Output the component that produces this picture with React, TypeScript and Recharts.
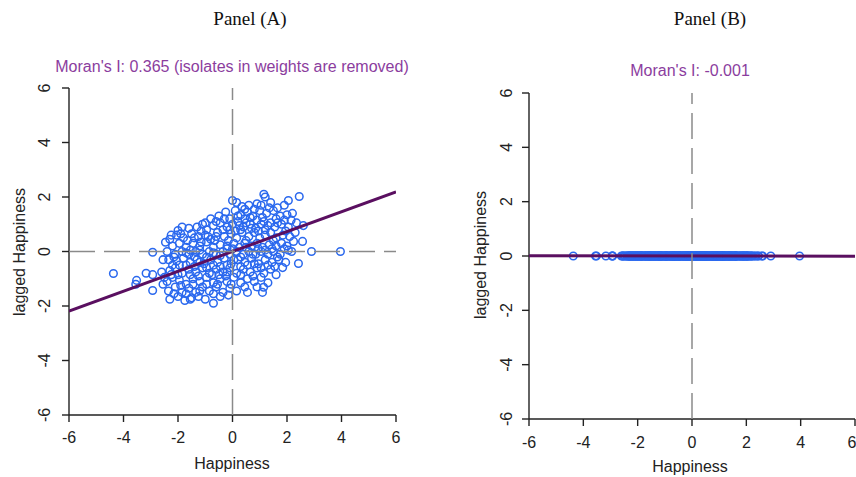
import { ScatterChart, Scatter, XAxis, YAxis } from "recharts";

const ticks = [-6, -4, -2, 0, 2, 4, 6];
const moranA = 0.365;
const moranB = -0.001;

// Panel A: [happiness, lagged happiness]
const outliersA: [number, number][] = [
  [-4.37, -0.81], [-3.52, -1.06], [-3.55, -1.2], [-3.17, -0.8], [-2.93, -0.03],
  [-2.93, -0.85], [-2.93, -1.43], [2.9, 0.0], [3.96, 0.0], [2.45, 2.02],
  [2.6, 0.95], [2.57, 0.37], [2.42, -0.44],
];
const topA: [number, number][] = [
  [0.0, 1.87], [0.15, 1.8], [0.35, 1.65], [0.6, 1.7], [0.9, 1.75], [1.15, 2.1],
  [1.2, 2.0], [1.4, 1.8], [1.9, 1.7], [2.05, 1.87], [1.65, 1.6], [0.8, 1.55],
  [-0.5, 1.3], [-0.25, 1.45], [0.1, 1.5], [0.3, 1.35], [0.55, 1.45], [0.75, 1.3],
  [1.0, 1.5], [1.25, 1.4], [1.5, 1.5], [1.75, 1.3], [2.0, 1.35], [2.2, 1.4],
  [-0.8, 1.2], [0.45, 1.2], [1.1, 1.25], [1.6, 1.2], [-1.0, 1.05], [-0.1, 1.2],
  [0.9, 1.15],
];
const upperA: [number, number][] = [
  [-1.6, 0.85], [-1.3, 0.9], [-1.1, 1.0], [-0.7, 0.95], [-0.45, 1.05], [-0.2, 0.9],
  [0.0, 1.0], [0.2, 1.1], [0.4, 0.9], [0.65, 1.0], [0.85, 0.85], [1.05, 1.0],
  [1.3, 0.95], [1.55, 0.9], [1.8, 1.0], [2.05, 0.9], [2.35, 1.05], [-0.95, 0.8],
  [0.3, 0.8], [1.2, 0.8], [1.95, 0.75], [-2.0, 0.77], [-1.85, 0.9],
  [-2.05, 0.6], [-1.8, 0.5], [-1.5, 0.65], [-1.25, 0.55], [-1.0, 0.6], [-0.8, 0.45],
  [-0.55, 0.7], [-0.3, 0.55], [-0.05, 0.65], [0.15, 0.5], [0.35, 0.7], [0.6, 0.55],
  [0.8, 0.7], [1.0, 0.5], [1.2, 0.6], [1.4, 0.7], [1.6, 0.5], [1.85, 0.6],
  [2.1, 0.55], [2.3, 0.7], [-1.65, 0.4], [-0.65, 0.4], [0.5, 0.4], [1.5, 0.4],
  [-2.3, 0.45], [0.95, 0.75], [-1.15, 0.75], [-0.15, 0.4],
];
const middleA: [number, number][] = [
  [-2.46, 0.34], [-2.2, 0.2], [-1.95, 0.3], [-1.7, 0.15], [-1.45, 0.3], [-1.2, 0.2],
  [-0.95, 0.35], [-0.7, 0.15], [-0.45, 0.25], [-0.2, 0.1], [0.05, 0.3], [0.25, 0.15],
  [0.45, 0.3], [0.7, 0.2], [0.9, 0.3], [1.1, 0.15], [1.35, 0.25], [1.6, 0.2],
  [1.8, 0.3], [2.0, 0.2], [2.24, 0.37], [-1.55, 0.05],
  [-2.4, 0.0], [-2.1, -0.1], [-1.85, 0.0], [-1.6, -0.1], [-1.35, 0.0], [-1.1, -0.1],
  [-0.85, 0.0], [-0.6, -0.1], [-0.35, 0.0], [-0.1, -0.1], [0.15, 0.0], [0.4, -0.1],
  [0.6, 0.0], [0.85, -0.1], [1.05, 0.0], [1.3, -0.1], [1.5, 0.0], [1.75, -0.1],
  [2.17, 0.0], [2.05, 0.05],
  [-2.55, -0.3], [-2.34, -0.3], [-2.05, -0.35], [-1.8, -0.25], [-1.55, -0.4], [-1.3, -0.3],
  [-1.05, -0.45], [-0.8, -0.3], [-0.55, -0.4], [-0.3, -0.25], [-0.05, -0.45], [0.2, -0.3],
  [0.45, -0.4], [0.7, -0.25], [0.95, -0.45], [1.2, -0.3], [1.45, -0.4], [1.7, -0.3],
  [1.95, -0.4], [-1.95, -0.5], [-0.2, -0.5],
];
const lowerA: [number, number][] = [
  [-2.6, -0.75], [-2.3, -0.7], [-2.1, -0.6], [-1.85, -0.8], [-1.6, -0.65], [-1.35, -0.75],
  [-1.1, -0.6], [-0.85, -0.8], [-0.6, -0.65], [-0.35, -0.75], [-0.1, -0.6], [0.15, -0.8],
  [0.4, -0.65], [0.65, -0.75], [0.9, -0.6], [1.15, -0.8], [1.4, -0.65], [1.84, -0.59],
  [1.6, -0.85], [-2.5, -0.95],
  [-2.4, -1.1], [-2.2, -0.95], [-1.95, -1.05], [-1.7, -1.2], [-1.45, -1.0], [-1.2, -1.1],
  [-0.95, -0.95], [-0.7, -1.15], [-0.45, -1.0], [-0.2, -1.1], [0.05, -0.95], [0.3, -1.15],
  [0.55, -1.0], [0.8, -1.1], [1.05, -0.95], [1.3, -1.15], [-2.55, -1.2],
];
const bottomA: [number, number][] = [
  [-2.35, -1.45], [-2.1, -1.3], [-1.85, -1.5], [-1.6, -1.35], [-1.35, -1.5], [-1.1, -1.3],
  [-0.85, -1.45], [-0.6, -1.3], [-0.35, -1.5], [-0.1, -1.35], [0.15, -1.45], [0.55, -1.5],
  [0.9, -1.3], [1.1, -1.5], [1.14, -1.31], [-1.7, -1.55],
  [-2.3, -1.75], [-2.0, -1.65], [-1.75, -1.8], [-1.5, -1.7], [-1.25, -1.65], [-1.0, -1.75],
  [-0.7, -1.9], [-0.45, -1.65], [-0.15, -1.6], [-1.55, -1.75],
];
// points between the ones above, where the cloud is densest
const denseA: [number, number][] = [
  [-2.25, 0.6], [-1.9, 0.65], [-1.4, 0.5], [-1.15, 0.35], [-0.9, 0.55], [-0.6, 0.55],
  [-0.35, 0.8], [-0.1, 0.8], [0.1, 0.75], [0.25, 0.95], [0.5, 1.05], [0.7, 0.85],
  [1.15, 1.1], [1.4, 1.05], [1.65, 1.05], [1.9, 1.15], [2.15, 1.15], [-0.6, 1.1],
  [-0.3, 1.2], [0.2, 1.3], [0.65, 1.25], [1.35, 1.6], [1.05, 1.7], [0.45, 1.55],
  [-2.15, -0.2], [-1.7, -0.05], [-1.4, -0.2], [-1.2, 0.05], [-0.95, -0.2], [-0.7, -0.05],
  [-0.45, -0.15], [-0.2, 0.2], [0.0, 0.1], [0.3, -0.2], [0.5, 0.15], [0.75, -0.1],
  [0.95, 0.1], [1.2, 0.05], [1.45, 0.1], [1.65, -0.2], [1.9, 0.1],
  [-2.2, -0.5], [-1.7, -0.5], [-1.4, -0.55], [-1.2, -0.4], [-0.95, -0.6], [-0.7, -0.5],
  [-0.45, -0.55], [-0.2, -0.75], [0.05, -0.3], [0.3, -0.55], [0.55, -0.5], [0.8, -0.45],
  [1.05, -0.6], [1.3, -0.5], [1.55, -0.55],
  [-2.25, -0.85], [-2.0, -0.85], [-1.55, -0.85], [-1.25, -0.9], [-0.75, -0.85], [-0.5, -0.85],
  [-0.25, -0.9], [0.3, -0.85], [0.75, -0.9], [-1.9, -1.25], [-1.45, -1.2], [-0.95, -1.2],
  [-0.55, -1.2], [-0.05, -1.2], [0.45, -1.3], [-1.2, -1.45], [-0.7, -1.55], [-2.15, -1.55],
];

const pointsA = [...outliersA, ...topA, ...upperA, ...middleA, ...lowerA, ...bottomA, ...denseA].map(
  ([x, y]) => ({ x, y })
);
// Panel B: same happiness values, the spatial lag is zero everywhere
const pointsB = pointsA.map((p) => ({ x: p.x, y: 0 }));

// dashed guides through the origin
const hGuide = [{ x: -6, y: 0 }, { x: 6, y: 0 }];
const vGuide = [{ x: 0, y: -6 }, { x: 0, y: 6 }];
const fitLine = (slope: number) => [{ x: -6, y: slope * -6 }, { x: 6, y: slope * 6 }];

const SANS = "'Liberation Sans', Arial, sans-serif";
const SERIF = "'Liberation Serif', 'Times New Roman', serif";
const INK = "#222";
const PURPLE = "#8b3d9e";
const LINE = "#5a0f60";
const BLUE = "#2a68ee";
const DASH = "#8a8a8a";

const OpenCircle = (props: any) => (
  <circle cx={props.cx} cy={props.cy} r={3.8} fill="none" stroke={BLUE} strokeWidth={1.5} />
);
const NoDot = () => null;

const xTick = (dy: number) => (props: any) => (
  <text x={props.x} y={props.y + dy} textAnchor="middle" fontSize={16} fontFamily={SANS} fill={INK}>
    {props.payload.value}
  </text>
);

const yTick = (dx: number) => (props: any) => (
  <text
    transform={`translate(${props.x - dx},${props.y}) rotate(-90)`}
    textAnchor="middle"
    fontSize={16}
    fontFamily={SANS}
    fill={INK}
  >
    {props.payload.value}
  </text>
);

interface PanelProps {
  data: { x: number; y: number }[];
  slope: number;
  width: number;
  top: number;
  right: number;
  yAxisWidth: number;
  xAxisHeight: number;
  tickDx: number;
  tickDy: number;
  dashedOver: boolean;
}

function Panel({ data, slope, width, top, right, yAxisWidth, xAxisHeight, tickDx, tickDy, dashedOver }: PanelProps) {
  const dashed = { stroke: DASH, strokeWidth: 1.5, strokeDasharray: "26 9" };
  const hLine = (
    <Scatter data={hGuide} line={dashed} shape={NoDot} isAnimationActive={false} />
  );
  return (
    <ScatterChart width={width} height={477} margin={{ top, right, bottom: 0, left: 0 }}>
      <XAxis
        type="number"
        dataKey="x"
        domain={[-6, 6]}
        ticks={ticks}
        height={xAxisHeight}
        tickSize={7}
        tickMargin={0}
        stroke={INK}
        strokeWidth={1.4}
        tick={xTick(tickDy)}
        allowDataOverflow
      />
      <YAxis
        type="number"
        dataKey="y"
        domain={[-6, 6]}
        ticks={ticks}
        width={yAxisWidth}
        tickSize={7}
        tickMargin={0}
        stroke={INK}
        strokeWidth={1.4}
        tick={yTick(tickDx)}
        allowDataOverflow
      />
      {!dashedOver && hLine}
      <Scatter data={data} shape={OpenCircle} isAnimationActive={false} />
      <Scatter
        data={fitLine(slope)}
        line={{ stroke: LINE, strokeWidth: 3 }}
        shape={NoDot}
        isAnimationActive={false}
      />
      {dashedOver && hLine}
      <Scatter data={vGuide} line={dashed} shape={NoDot} isAnimationActive={false} />
    </ScatterChart>
  );
}

export default function App() {
  return (
    <div style={{ position: "absolute", left: 0, top: 0, width: 856, height: 477, background: "#fff" }}>
      <div style={{ position: "absolute", left: 0, top: 0 }}>
        <Panel
          data={pointsA}
          slope={moranA}
          width={430}
          top={88}
          right={34}
          yAxisWidth={69}
          xAxisHeight={62}
          tickDx={12}
          tickDy={21}
          dashedOver
        />
      </div>
      <div style={{ position: "absolute", left: 430, top: 0 }}>
        <Panel
          data={pointsB}
          slope={moranB}
          width={426}
          top={93}
          right={1}
          yAxisWidth={99}
          xAxisHeight={58}
          tickDx={10}
          tickDy={22}
          dashedOver={false}
        />
      </div>
      <svg width={856} height={477} style={{ position: "absolute", left: 0, top: 0, pointerEvents: "none" }}>
        <text x={250} y={25} textAnchor="middle" fontFamily={SERIF} fontSize={19} fill="#111">
          Panel (A)
        </text>
        <text x={710} y={25} textAnchor="middle" fontFamily={SERIF} fontSize={19} fill="#111">
          Panel (B)
        </text>
        <text x={232} y={72} textAnchor="middle" fontFamily={SANS} fontSize={16} fill={PURPLE}>
          {`Moran's I: ${moranA.toFixed(3)} (isolates in weights are removed)`}
        </text>
        <text x={690} y={76} textAnchor="middle" fontFamily={SANS} fontSize={16} fill={PURPLE}>
          {`Moran's I: ${moranB.toFixed(3)}`}
        </text>
        <text x={232} y={469} textAnchor="middle" fontFamily={SANS} fontSize={16} fill={INK}>
          Happiness
        </text>
        <text x={690} y={472} textAnchor="middle" fontFamily={SANS} fontSize={16} fill={INK}>
          Happiness
        </text>
        <text transform="translate(25,252) rotate(-90)" textAnchor="middle" fontFamily={SANS} fontSize={16} fill={INK}>
          lagged Happiness
        </text>
        <text transform="translate(486,255) rotate(-90)" textAnchor="middle" fontFamily={SANS} fontSize={16} fill={INK}>
          lagged Happiness
        </text>
      </svg>
    </div>
  );
}
